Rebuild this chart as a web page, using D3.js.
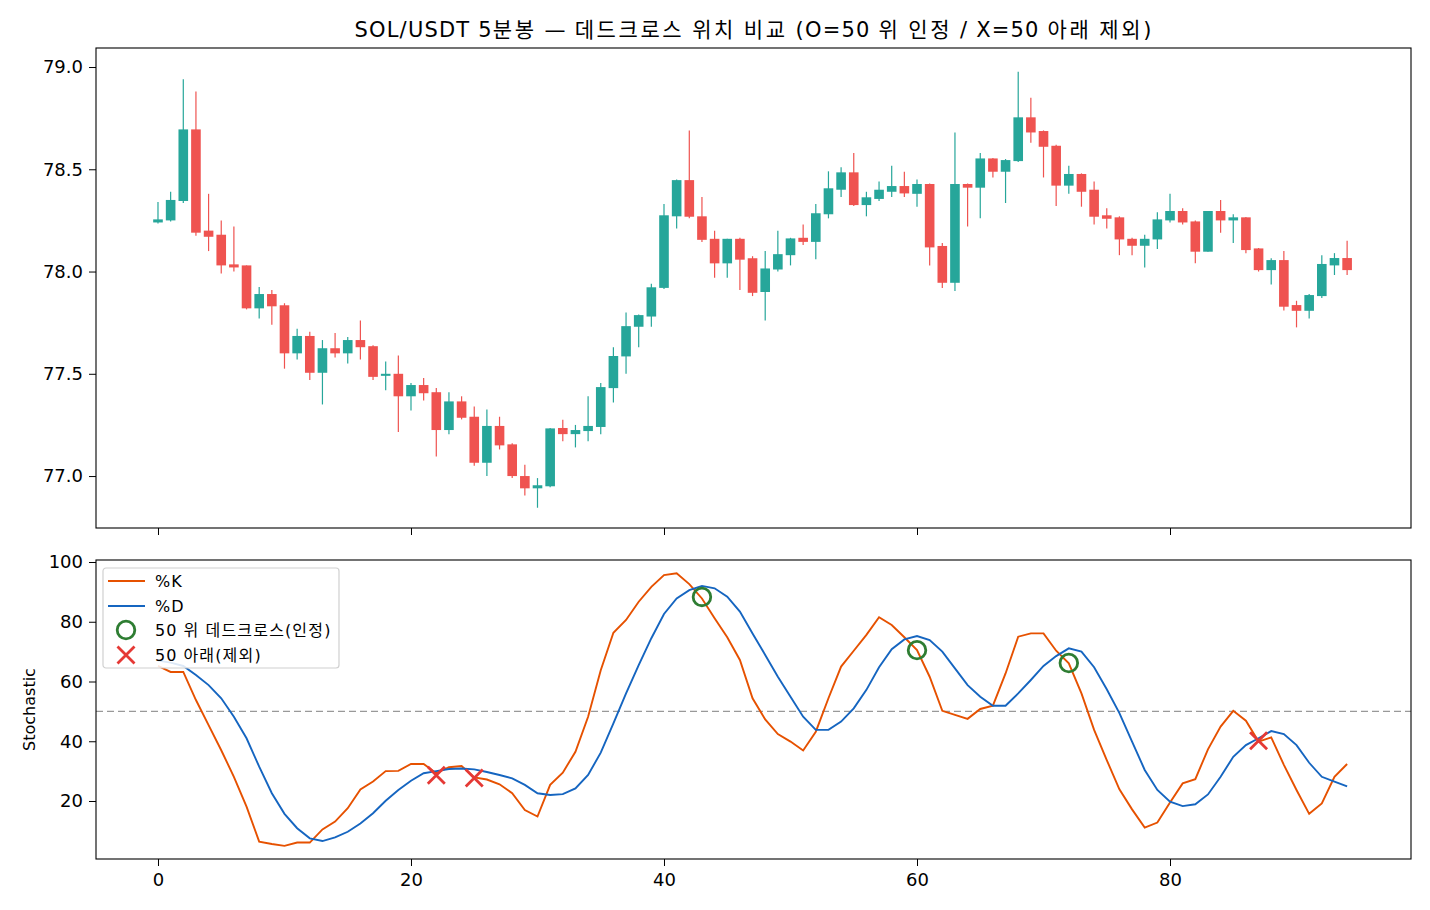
<!DOCTYPE html>
<html>
<head>
<meta charset="utf-8">
<script src="https://cdn.jsdelivr.net/npm/d3@7/dist/d3.min.js"></script>
<style>
  body { margin: 0; background: #fff; }
  svg text { font-family: "DejaVu Sans", "Noto Sans CJK KR", sans-serif; fill: #000; }
</style>
</head>
<body>
<div id="chart"></div>
<script>
// candles: open / high / low / close
var opens  = [78.24, 78.25, 78.345, 78.695, 78.20, 78.18, 78.035, 78.03, 77.82, 77.89,
              77.835, 77.60, 77.685, 77.505, 77.625, 77.60, 77.665, 77.635, 77.49, 77.50,
              77.39, 77.445, 77.41, 77.225, 77.365, 77.29, 77.065, 77.245, 77.155, 77.0,
              76.94, 76.95, 77.235, 77.205, 77.22, 77.24, 77.43, 77.585, 77.73, 77.78,
              77.92, 78.27, 78.447, 78.27, 78.16, 78.04, 78.16, 78.065, 77.90, 78.01,
              78.08, 78.165, 78.145, 78.28, 78.40, 78.485, 78.325, 78.355, 78.39, 78.418,
              78.38, 78.428, 78.125, 77.945, 78.428, 78.41, 78.553, 78.488, 78.54, 78.754,
              78.687, 78.615, 78.42, 78.477, 78.40, 78.275, 78.265, 78.16, 78.126, 78.157,
              78.25, 78.296, 78.245, 78.097, 78.296, 78.25, 78.265, 78.113, 78.007, 78.056,
              77.836, 77.808, 77.88, 78.03, 78.066];
var highs  = [78.34, 78.39, 78.94, 78.88, 78.38, 78.25, 78.22, 78.03, 77.925, 77.91,
              77.845, 77.72, 77.705, 77.665, 77.70, 77.68, 77.76, 77.64, 77.56, 77.59,
              77.455, 77.48, 77.43, 77.41, 77.39, 77.34, 77.325, 77.29, 77.16, 77.055,
              76.99, 77.235, 77.275, 77.25, 77.39, 77.455, 77.63, 77.80, 77.79, 77.94,
              78.33, 78.45, 78.69, 78.365, 78.20, 78.16, 78.165, 78.075, 78.10, 78.20,
              78.165, 78.23, 78.33, 78.49, 78.51, 78.58, 78.39, 78.44, 78.517, 78.488,
              78.45, 78.43, 78.14, 78.68, 78.43, 78.58, 78.555, 78.55, 78.977, 78.85,
              78.69, 78.62, 78.517, 78.48, 78.44, 78.31, 78.27, 78.165, 78.18, 78.29,
              78.38, 78.31, 78.25, 78.296, 78.35, 78.28, 78.267, 78.115, 78.065, 78.10,
              77.857, 77.89, 78.08, 78.09, 78.15];
var lows   = [78.235, 78.245, 78.335, 78.175, 78.10, 77.99, 78.0, 77.815, 77.77, 77.74,
              77.525, 77.57, 77.47, 77.35, 77.58, 77.55, 77.57, 77.47, 77.42, 77.215,
              77.32, 77.37, 77.095, 77.205, 77.277, 77.05, 77.0, 77.13, 76.99, 76.905,
              76.845, 76.945, 77.17, 77.14, 77.17, 77.205, 77.36, 77.50, 77.63, 77.73,
              77.915, 78.21, 78.26, 78.145, 77.97, 77.97, 77.91, 77.88, 77.76, 78.0,
              78.03, 78.13, 78.06, 78.26, 78.365, 78.32, 78.27, 78.345, 78.365, 78.365,
              78.317, 78.03, 77.92, 77.905, 78.22, 78.26, 78.46, 78.335, 78.535, 78.63,
              78.46, 78.32, 78.38, 78.317, 78.23, 78.21, 78.08, 78.08, 78.02, 78.11,
              78.24, 78.23, 78.04, 78.097, 78.19, 78.14, 78.09, 78.0, 77.937, 77.81,
              77.727, 77.77, 77.87, 77.983, 77.983];
var closes = [78.255, 78.35, 78.695, 78.19, 78.17, 78.03, 78.02, 77.82, 77.89, 77.83,
              77.60, 77.685, 77.505, 77.625, 77.60, 77.665, 77.63, 77.485, 77.50, 77.39,
              77.445, 77.405, 77.225, 77.365, 77.285, 77.065, 77.245, 77.15, 77.0, 76.94,
              76.955, 77.233, 77.205, 77.225, 77.245, 77.435, 77.587, 77.733, 77.787, 77.923,
              78.275, 78.447, 78.268, 78.155, 78.04, 78.16, 78.058, 77.896, 78.015, 78.085,
              78.162, 78.145, 78.285, 78.407, 78.485, 78.325, 78.363, 78.40, 78.418, 78.382,
              78.428, 78.118, 77.945, 78.428, 78.41, 78.553, 78.488, 78.545, 78.754, 78.68,
              78.61, 78.42, 78.477, 78.39, 78.268, 78.258, 78.157, 78.126, 78.16, 78.255,
              78.296, 78.24, 78.097, 78.296, 78.25, 78.265, 78.105, 78.007, 78.056, 77.828,
              77.808, 77.885, 78.037, 78.066, 78.007];

// stochastic
var kValues = [65.2, 63.2, 63.2, 53.8, 45.4, 37.0, 28.1, 18.1, 6.4, 5.6,
               5.0, 6.1, 6.1, 10.5, 13.1, 17.6, 23.9, 26.5, 30.0, 30.1,
               32.4, 32.4, 29.3, 31.3, 31.7, 27.9, 27.2, 25.6, 22.6, 17.0,
               14.8, 25.4, 29.5, 36.5, 48.2, 63.8, 76.3, 80.6, 86.7, 91.7,
               95.6, 96.2, 92.6, 87.8, 81.2, 74.8, 67.2, 54.4, 47.3, 42.4,
               39.9, 36.9, 43.2, 54.4, 65.0, 70.3, 75.6, 81.5, 78.9, 74.8,
               70.5, 61.6, 50.2, 48.8, 47.5, 50.8, 51.9, 62.7, 75.0, 76.1,
               76.1, 70.3, 66.1, 56.0, 43.8, 33.7, 23.9, 17.2, 11.1, 12.8,
               19.5, 25.9, 27.3, 37.3, 44.9, 50.2, 46.9, 39.9, 41.3, 32.1,
               23.7, 15.7, 19.2, 28.1, 32.4];
var dValues = [67.0, 66.3, 65.2, 62.2, 58.8, 54.4, 48.2, 41.0, 31.5, 22.6,
               15.7, 10.9, 7.5, 6.6, 7.8, 9.7, 12.5, 15.9, 20.1, 23.7,
               26.8, 29.3, 30.0, 30.7, 30.9, 30.6, 29.7, 28.7, 27.6, 25.4,
               22.6, 22.0, 22.3, 24.2, 28.7, 36.2, 46.0, 56.0, 65.5, 74.5,
               82.6, 87.8, 90.6, 92.0, 91.2, 88.4, 83.4, 76.1, 68.9, 61.6,
               54.9, 48.2, 43.8, 43.8, 46.6, 51.0, 57.2, 64.8, 70.8, 74.1,
               75.2, 73.9, 70.0, 64.4, 58.8, 54.9, 51.9, 51.9, 56.0, 60.5,
               65.2, 68.5, 71.1, 70.0, 64.8, 57.4, 49.4, 39.9, 30.4, 23.7,
               19.8, 18.3, 18.9, 22.2, 28.1, 34.8, 38.7, 41.0, 43.4, 42.4,
               38.7, 32.8, 28.1, 26.5, 24.9];

var crossAboveIdx = [43, 60, 72];
var crossAboveVal = [88.3, 70.5, 66.2];
var crossBelowIdx = [22, 25, 87];
var crossBelowVal = [28.6, 27.7, 40.2];

var priceTicks = [77.0, 77.5, 78.0, 78.5, 79.0];
var stochTicks = [20, 40, 60, 80, 100];
var xTicks = [0, 20, 40, 60, 80];

var titleText = 'SOL/USDT 5분봉 — 데드크로스 위치 비교 (O=50 위 인정 / X=50 아래 제외)';
var legendLabels = ['%K', '%D', '50 위 데드크로스(인정)', '50 아래(제외)'];

var upColor = '#26a69a', downColor = '#ef5350';
var kColor = '#e65100', dColor = '#1565c0';

var W = 1430, H = 910;
var left = 96, right = 1411;
var top1 = 48, bottom1 = 528;
var top2 = 560, bottom2 = 859;

var svg = d3.select('#chart').append('svg')
    .attr('width', W).attr('height', H);

var xScale = d3.scaleLinear().domain([-4.9, 99.05]).range([left, right]);
var yPrice = d3.scaleLinear().domain([76.746, 79.093]).range([bottom1, top1]);
var yStoch = d3.scaleLinear().domain([0.59, 100.67]).range([bottom2, top2]);

// hangul runs get their own spacing so the text spreads like the original
function mixedText(textSel, str, lsLatin, lsHangul) {
    var parts = str.split(/([\uAC00-\uD7A3]+)/);
    parts.forEach(function(p) {
        if (!p) return;
        var isHangul = /[\uAC00-\uD7A3]/.test(p);
        textSel.append('tspan')
            .attr('letter-spacing', (isHangul ? lsHangul : lsLatin) + 'px')
            .text(p);
    });
}

var title = svg.append('text')
    .attr('x', (left + right) / 2)
    .attr('y', 37)
    .attr('text-anchor', 'middle')
    .attr('font-size', '21px');
mixedText(title, titleText, 1.2, 2.6);

// ---------- top panel: candles
var g1 = svg.append('g');
var idx = d3.range(opens.length);
var bw = 0.76 * (xScale(1) - xScale(0));

g1.selectAll('line.wick')
    .data(idx)
    .enter()
    .append('line')
    .attr('class', 'wick')
    .attr('x1', i => xScale(i)).attr('x2', i => xScale(i))
    .attr('y1', i => yPrice(highs[i])).attr('y2', i => yPrice(lows[i]))
    .attr('stroke', i => closes[i] >= opens[i] ? upColor : downColor)
    .attr('stroke-width', 1.2);

g1.selectAll('rect.body')
    .data(idx)
    .enter()
    .append('rect')
    .attr('class', 'body')
    .attr('x', i => xScale(i) - bw / 2)
    .attr('width', bw)
    .attr('y', i => yPrice(Math.max(opens[i], closes[i])))
    .attr('height', i => Math.max(1.5, Math.abs(yPrice(opens[i]) - yPrice(closes[i]))))
    .attr('fill', i => closes[i] >= opens[i] ? upColor : downColor);

var yAxis1 = g1.append('g')
    .attr('transform', 'translate(' + left + ',0)')
    .call(d3.axisLeft(yPrice).tickValues(priceTicks).tickFormat(d3.format('.1f')).tickSize(7).tickPadding(6));
var xAxis1 = g1.append('g')
    .attr('transform', 'translate(0,' + bottom1 + ')')
    .call(d3.axisBottom(xScale).tickValues(xTicks).tickFormat('').tickSize(7));

g1.append('rect')
    .attr('x', left).attr('y', top1)
    .attr('width', right - left).attr('height', bottom1 - top1)
    .attr('fill', 'none').attr('stroke', '#000').attr('stroke-width', 1.1);

// ---------- bottom panel: stochastic
var g2 = svg.append('g');

g2.append('line')
    .attr('x1', left).attr('x2', right)
    .attr('y1', yStoch(50)).attr('y2', yStoch(50))
    .attr('stroke', '#999').attr('stroke-width', 1.4)
    .attr('stroke-dasharray', '7,4');

var lineK = d3.line().x((d, i) => xScale(i)).y(d => yStoch(d));

g2.append('path')
    .datum(kValues)
    .attr('d', lineK)
    .attr('fill', 'none')
    .attr('stroke', kColor)
    .attr('stroke-width', 1.9);

g2.append('path')
    .datum(dValues)
    .attr('d', lineK)
    .attr('fill', 'none')
    .attr('stroke', dColor)
    .attr('stroke-width', 1.9);

g2.selectAll('circle.above')
    .data(crossAboveIdx)
    .enter()
    .append('circle')
    .attr('class', 'above')
    .attr('cx', d => xScale(d))
    .attr('cy', (d, i) => yStoch(crossAboveVal[i]))
    .attr('r', 8.8)
    .attr('fill', 'none')
    .attr('stroke', '#2e7d32')
    .attr('stroke-width', 2.8);

function drawX(sel, cx, cy, s) {
    sel.append('path')
        .attr('d', 'M' + (cx - s) + ',' + (cy - s) + 'L' + (cx + s) + ',' + (cy + s) +
                   'M' + (cx - s) + ',' + (cy + s) + 'L' + (cx + s) + ',' + (cy - s))
        .attr('stroke', '#e53935')
        .attr('stroke-width', 2.8)
        .attr('fill', 'none');
}
crossBelowIdx.forEach(function(d, i) {
    drawX(g2, xScale(d), yStoch(crossBelowVal[i]), 8.5);
});

var yAxis2 = g2.append('g')
    .attr('transform', 'translate(' + left + ',0)')
    .call(d3.axisLeft(yStoch).tickValues(stochTicks).tickSize(7).tickPadding(6));
var xAxis2 = g2.append('g')
    .attr('transform', 'translate(0,' + bottom2 + ')')
    .call(d3.axisBottom(xScale).tickValues(xTicks).tickSize(7).tickPadding(7));

g2.append('rect')
    .attr('x', left).attr('y', top2)
    .attr('width', right - left).attr('height', bottom2 - top2)
    .attr('fill', 'none').attr('stroke', '#000').attr('stroke-width', 1.1);

svg.selectAll('.domain').remove();
svg.selectAll('.tick text').attr('font-size', '18px').attr('fill', '#000')
    .style('font-family', '"DejaVu Sans", sans-serif');
svg.selectAll('.tick line').attr('stroke', '#000').attr('stroke-width', 1);

svg.append('text')
    .attr('transform', 'translate(35,' + ((top2 + bottom2) / 2) + ') rotate(-90)')
    .attr('text-anchor', 'middle')
    .attr('font-size', '16px')
    .text('Stochastic');

// legend
var leg = svg.append('g').attr('transform', 'translate(103,568)');
leg.append('rect')
    .attr('width', 236).attr('height', 100)
    .attr('rx', 3)
    .attr('fill', '#fff').attr('fill-opacity', 0.85)
    .attr('stroke', '#d0d0d0').attr('stroke-width', 1.2);

var rowY = [13, 38, 62, 87];
leg.append('line').attr('x1', 5).attr('x2', 42).attr('y1', rowY[0]).attr('y2', rowY[0])
    .attr('stroke', kColor).attr('stroke-width', 1.9);
leg.append('line').attr('x1', 5).attr('x2', 42).attr('y1', rowY[1]).attr('y2', rowY[1])
    .attr('stroke', dColor).attr('stroke-width', 1.9);
leg.append('circle').attr('cx', 23).attr('cy', rowY[2]).attr('r', 8.8)
    .attr('fill', 'none').attr('stroke', '#2e7d32').attr('stroke-width', 2.8);
drawX(leg, 23, rowY[3], 8.5);

legendLabels.forEach(function(d, i) {
    var t = leg.append('text')
        .attr('x', 52)
        .attr('y', rowY[i] + 6)
        .attr('font-size', '16px');
    mixedText(t, d, 1.0, 1.2);
});
</script>
</body>
</html>
